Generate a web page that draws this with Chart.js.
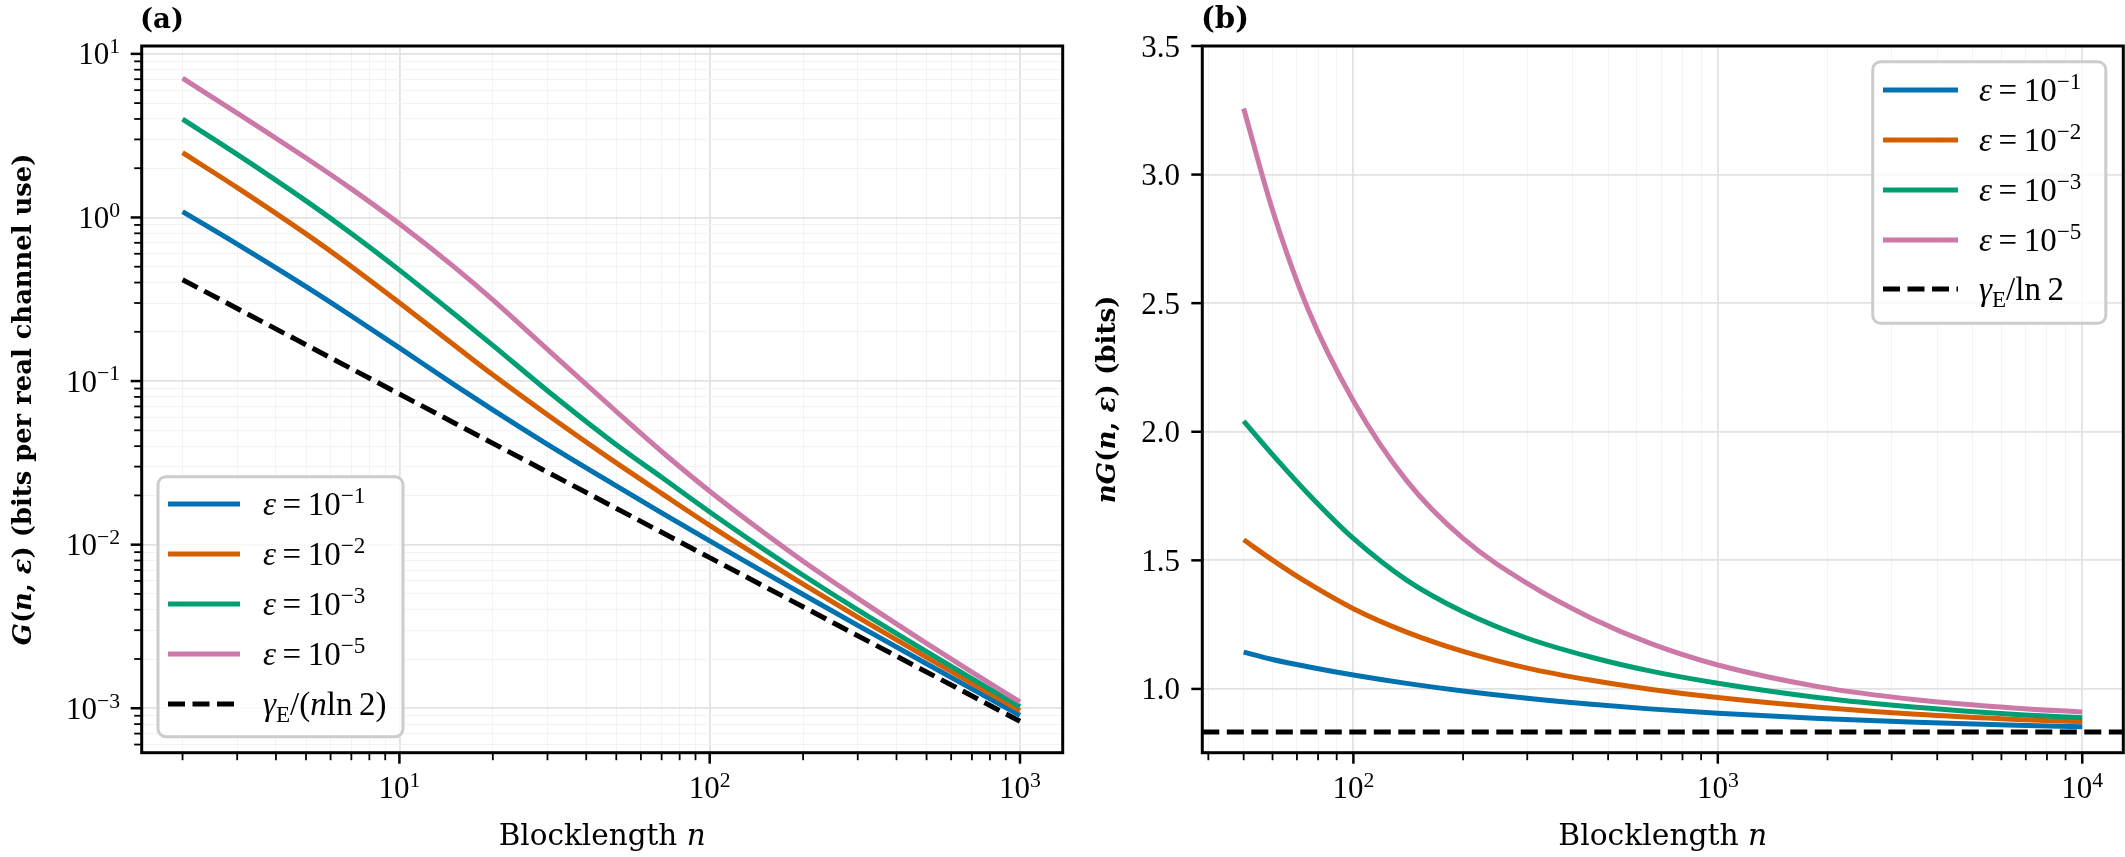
<!DOCTYPE html>
<html lang="en">
<head>
  <meta charset="UTF-8">
  <title>G(n, ε) against blocklength</title>
  <script src="https://cdn.jsdelivr.net/npm/chart.js"></script>
  <style>
    html, body {
      margin: 0;
      padding: 0;
      background: #fff;
    }

    .wrap {
      position: relative;
      width: 2125px;
      height: 857px;
    }

    #chartA {
      position: absolute;
      left: 0;
      top: 0;
    }

    #chartB {
      position: absolute;
      left: 1075px;
      top: 0;
    }
  </style>
</head>
<body>
  <div class="wrap">
    <canvas id="chartA" width="1075" height="857"></canvas>
    <canvas id="chartB" width="1050" height="857"></canvas>
  </div>

  <script>
    // Panel (a): G(n, eps) in bits per real channel use, log-log
    const nA = [2, 3, 5, 7, 10, 15, 20, 30, 50, 70, 100, 150, 200, 300, 500, 700, 1000];
    const gEps1 = [1.085, 0.687, 0.3776, 0.2499, 0.1594, 0.09513, 0.06665, 0.04103, 0.02286, 0.01564, 0.010541, 0.006772, 0.00496, 0.003212, 0.00187, 0.001313, 0.000905];
    const gEps2 = [2.49, 1.522, 0.7934, 0.502, 0.3011, 0.1661, 0.10925, 0.06227, 0.0316, 0.02057, 0.01312, 0.008043, 0.00573, 0.003603, 0.002047, 0.001419, 0.0009665];
    const gEps3 = [3.99, 2.431, 1.2634, 0.7981, 0.4766, 0.2579, 0.1653, 0.0873, 0.04082, 0.02581, 0.01585, 0.009327, 0.0065, 0.00399, 0.002216, 0.001517, 0.001022];
    const gEps5 = [7.10, 4.347, 2.31, 1.496, 0.915, 0.4987, 0.3135, 0.156, 0.06514, 0.0371, 0.0212, 0.01177, 0.007925, 0.0047, 0.002494, 0.001663, 0.001093];
    const nRefA = [2, 10, 100, 1000];
    const gRef = [0.4164, 0.0833, 0.00833, 0.000833];

    // Panel (b): n * G(n, eps) in bits
    const nB = [50, 60, 75, 100, 140, 200, 300, 450, 650, 1000, 1900, 3500, 6600, 10000];
    const ngEps1 = [1.143, 1.1145, 1.0864, 1.0541, 1.0215, 0.9919, 0.9636, 0.9402, 0.9224, 0.905, 0.8846, 0.8701, 0.8588, 0.853];
    const ngEps2 = [1.580, 1.501, 1.412, 1.312, 1.221, 1.146, 1.081, 1.0335, 0.999, 0.9665, 0.929, 0.9015, 0.8815, 0.872];
    const ngEps3 = [2.041, 1.911, 1.760, 1.585, 1.423, 1.300, 1.197, 1.123, 1.070, 1.022, 0.966, 0.929, 0.901, 0.888];
    const ngEps5 = [3.257, 2.862, 2.478, 2.12, 1.81, 1.585, 1.41, 1.275, 1.178, 1.093, 1.008, 0.958, 0.925, 0.910];
    const ngRef = 0.8327;

    // axis ranges and tick labels
    const xLimA = [1.477, 1373];
    const yLimA = [5.35e-4, 11.17];
    const xLimB = [38.5, 12960];
    const yLimB = [0.752, 3.5];
    const xMajorA = [10, 100, 1000];
    const xExpA = ['1', '2', '3'];
    const yMajorA = [1e-3, 1e-2, 1e-1, 1, 10];
    const yExpA = ['−3', '−2', '−1', '0', '1'];
    const xMajorB = [100, 1000, 10000];
    const xExpB = ['2', '3', '4'];
    const yTicksB = [1.0, 1.5, 2.0, 2.5, 3.0, 3.5];
    const yTickLabelsB = ['1.0', '1.5', '2.0', '2.5', '3.0', '3.5'];

    const epsExps = ['−1', '−2', '−3', '−5'];
    const colors = ['#0072B2', '#D55E00', '#009E73', '#CC79A7'];

    const MATH = '"Liberation Serif", "Times New Roman", serif';
    const TEXT = '"DejaVu Serif", serif';
    const GRID_MAJOR = '#e2e2e2';
    const GRID_MINOR = '#f3f3f3';
    const DASH = [17, 7.5];

    function logTicks(lo, hi) {
      const out = [];
      for (let e = Math.floor(Math.log10(lo)); e <= Math.ceil(Math.log10(hi)); e++) {
        for (let m = 1; m < 10; m++) {
          const v = m * Math.pow(10, e);
          if (v >= lo && v <= hi) out.push({ value: v, major: m === 1 });
        }
      }
      return out;
    }

    function fontStr(p, size, family) {
      return (p.it ? 'italic ' : '') + (p.b ? 'bold ' : '') + size + 'px ' + family;
    }

    function layoutParts(ctx, parts, size, family) {
      let w = 0;
      const items = parts.map(p => {
        const s = (p.sup || p.sub) ? size * 0.7 : size;
        ctx.font = fontStr(p, s, family);
        const pw = ctx.measureText(p.t).width;
        const it = { p, x: w, font: ctx.font };
        w += pw;
        return it;
      });
      return { items, width: w };
    }

    function drawParts(ctx, parts, x, y, size, family, align) {
      const lay = layoutParts(ctx, parts, size, family);
      let x0 = x;
      if (align === 'center') x0 = x - lay.width / 2;
      if (align === 'right') x0 = x - lay.width;
      ctx.textAlign = 'left';
      ctx.textBaseline = 'alphabetic';
      lay.items.forEach(it => {
        ctx.font = it.font;
        const dy = it.p.sup ? -size * 0.36 : it.p.sub ? size * 0.2 : 0;
        ctx.fillText(it.p.t, x0 + it.x, y + dy);
      });
    }

    function fitSize(ctx, parts, family, target) {
      return 100 * target / layoutParts(ctx, parts, 100, family).width;
    }

    function pow10(exp) {
      return [{ t: '10' }, { t: exp, sup: true }];
    }

    function series(xs, ys, color, order, dash) {
      return {
        data: xs.map((x, i) => ({ x, y: ys[i] })),
        borderColor: color,
        borderWidth: 5,
        borderDash: dash || [],
        borderCapStyle: 'butt',
        pointRadius: 0,
        fill: false,
        cubicInterpolationMode: 'monotone',
        order
      };
    }

    function gridOpts() {
      return {
        drawTicks: false,
        color: c => (c.tick && c.tick.major) ? GRID_MAJOR : GRID_MINOR,
        lineWidth: c => (c.tick && c.tick.major) ? 1.8 : 1
      };
    }

    // spines, ticks, tick labels, titles and legend
    function decor(cfg) {
      return {
        id: 'decor',
        afterDraw(chart) {
          const ctx = chart.ctx;
          const a = chart.chartArea;
          const xs = chart.scales.x;
          const ys = chart.scales.y;
          ctx.save();
          ctx.fillStyle = '#000';
          ctx.strokeStyle = '#000';

          xs.ticks.forEach(t => {
            const px = xs.getPixelForValue(t.value);
            ctx.lineWidth = t.major ? 2.5 : 1.8;
            ctx.beginPath();
            ctx.moveTo(px, a.bottom);
            ctx.lineTo(px, a.bottom + (t.major ? 11 : 7.5));
            ctx.stroke();
          });
          ys.ticks.forEach(t => {
            const py = ys.getPixelForValue(t.value);
            ctx.lineWidth = t.major ? 2.5 : 1.8;
            ctx.beginPath();
            ctx.moveTo(a.left, py);
            ctx.lineTo(a.left - (t.major ? 11 : 7.5), py);
            ctx.stroke();
          });

          ctx.lineWidth = 3;
          ctx.strokeRect(a.left, a.top, a.right - a.left, a.bottom - a.top);

          cfg.xLabels.forEach(l => {
            drawParts(ctx, l.parts, xs.getPixelForValue(l.v), 798, 31, MATH, 'center');
          });
          cfg.yLabels.forEach(l => {
            drawParts(ctx, l.parts, cfg.yLabelRight, ys.getPixelForValue(l.v) + 10.5, 31, MATH, 'right');
          });

          const midX = (a.left + a.right) / 2;
          const midY = (a.top + a.bottom) / 2;
          const xt = [{ t: 'Blocklength ' }, { t: 'n', it: true }];
          drawParts(ctx, xt, midX, 845, fitSize(ctx, xt, TEXT, cfg.xTitleWidth), TEXT, 'center');

          ctx.save();
          ctx.translate(cfg.yTitleX, midY);
          ctx.rotate(-Math.PI / 2);
          drawParts(ctx, cfg.yTitle, 0, 0, fitSize(ctx, cfg.yTitle, TEXT, cfg.yTitleWidth), TEXT, 'center');
          ctx.restore();

          drawParts(ctx, cfg.title, cfg.titleX, 28, fitSize(ctx, cfg.title, TEXT, cfg.titleWidth), TEXT, 'left');

          const lg = cfg.legend;
          ctx.beginPath();
          ctx.roundRect(lg.box[0], lg.box[1], lg.box[2] - lg.box[0], lg.box[3] - lg.box[1], 8);
          ctx.fillStyle = 'rgba(255,255,255,0.8)';
          ctx.fill();
          ctx.lineWidth = 3;
          ctx.strokeStyle = '#cccccc';
          ctx.stroke();
          lg.rows.forEach((ry, i) => {
            const dashed = i === 4;
            ctx.strokeStyle = dashed ? '#000' : colors[i];
            ctx.lineWidth = 5;
            ctx.lineCap = 'butt';
            ctx.setLineDash(dashed ? DASH : []);
            ctx.beginPath();
            ctx.moveTo(lg.line[0], ry);
            ctx.lineTo(lg.line[1], ry);
            ctx.stroke();
            ctx.setLineDash([]);
            ctx.fillStyle = '#000';
            const parts = dashed ? lg.refLabel
              : [{ t: 'ε', it: true }, { t: '\u2009=\u200910' }, { t: epsExps[i], sup: true }];
            drawParts(ctx, parts, lg.textX, ry + 11, 33, MATH, 'left');
          });
          ctx.restore();
        }
      };
    }

    new Chart(document.getElementById('chartA'), {
      type: 'line',
      data: {
        datasets: [
          series(nA, gEps1, colors[0], 4),
          series(nA, gEps2, colors[1], 3),
          series(nA, gEps3, colors[2], 2),
          series(nA, gEps5, colors[3], 1),
          series(nRefA, gRef, '#000', 0, DASH)
        ]
      },
      options: {
        responsive: false,
        animation: false,
        devicePixelRatio: 1,
        layout: { padding: { left: 0, right: 12.3, top: 46, bottom: 0 } },
        plugins: { legend: { display: false }, tooltip: { enabled: false } },
        scales: {
          x: {
            type: 'logarithmic',
            min: xLimA[0],
            max: xLimA[1],
            afterBuildTicks: s => { s.ticks = logTicks(xLimA[0], xLimA[1]); },
            afterFit: s => { s.height = 104.3; },
            ticks: { display: false },
            grid: gridOpts(),
            border: { display: false }
          },
          y: {
            type: 'logarithmic',
            min: yLimA[0],
            max: yLimA[1],
            afterBuildTicks: s => { s.ticks = logTicks(yLimA[0], yLimA[1]); },
            afterFit: s => { s.width = 141.7; },
            ticks: { display: false },
            grid: gridOpts(),
            border: { display: false }
          }
        }
      },
      plugins: [decor({
        xLabels: xMajorA.map((v, i) => ({ v, parts: pow10(xExpA[i]) })),
        yLabels: yMajorA.map((v, i) => ({ v, parts: pow10(yExpA[i]) })),
        yLabelRight: 120,
        xTitleWidth: 207,
        yTitle: [
          { t: 'G', it: true, b: true }, { t: '(', b: true }, { t: 'n', it: true, b: true },
          { t: ', ', b: true }, { t: 'ε', it: true, b: true },
          { t: ') (bits per real channel use)', b: true }
        ],
        yTitleWidth: 492,
        yTitleX: 31,
        title: [{ t: '(a)', b: true }],
        titleX: 140,
        titleWidth: 44,
        legend: {
          box: [158, 476.7, 403, 736.7],
          line: [168, 240],
          textX: 263,
          rows: [504, 554, 604, 654, 704],
          refLabel: [{ t: 'γ', it: true }, { t: 'E', sub: true }, { t: '/(' }, { t: 'n', it: true }, { t: 'ln\u20092)' }]
        }
      })]
    });

    new Chart(document.getElementById('chartB'), {
      type: 'line',
      data: {
        datasets: [
          series(nB, ngEps1, colors[0], 4),
          series(nB, ngEps2, colors[1], 3),
          series(nB, ngEps3, colors[2], 2),
          series(nB, ngEps5, colors[3], 1),
          series(xLimB, [ngRef, ngRef], '#000', 0, DASH)
        ]
      },
      options: {
        responsive: false,
        animation: false,
        devicePixelRatio: 1,
        layout: { padding: { left: 0, right: 1.7, top: 46, bottom: 0 } },
        plugins: { legend: { display: false }, tooltip: { enabled: false } },
        scales: {
          x: {
            type: 'logarithmic',
            min: xLimB[0],
            max: xLimB[1],
            afterBuildTicks: s => { s.ticks = logTicks(xLimB[0], xLimB[1]); },
            afterFit: s => { s.height = 104.3; },
            ticks: { display: false },
            grid: gridOpts(),
            border: { display: false }
          },
          y: {
            type: 'linear',
            min: yLimB[0],
            max: yLimB[1],
            afterBuildTicks: s => { s.ticks = yTicksB.map(v => ({ value: v, major: true })); },
            afterFit: s => { s.width = 127.3; },
            ticks: { display: false },
            grid: gridOpts(),
            border: { display: false }
          }
        }
      },
      plugins: [decor({
        xLabels: xMajorB.map((v, i) => ({ v, parts: pow10(xExpB[i]) })),
        yLabels: yTicksB.map((v, i) => ({ v, parts: [{ t: yTickLabelsB[i] }] })),
        yLabelRight: 105,
        xTitleWidth: 209,
        yTitle: [
          { t: 'nG', it: true, b: true }, { t: '(', b: true }, { t: 'n', it: true, b: true },
          { t: ', ', b: true }, { t: 'ε', it: true, b: true }, { t: ') (bits)', b: true }
        ],
        yTitleWidth: 208,
        yTitleX: 40,
        title: [{ t: '(b)', b: true }],
        titleX: 126,
        titleWidth: 48,
        legend: {
          box: [797.7, 61.7, 1030.8, 323.3],
          line: [808, 883],
          textX: 904,
          rows: [90, 140, 190, 240, 289],
          refLabel: [{ t: 'γ', it: true }, { t: 'E', sub: true }, { t: '/ln\u20092' }]
        }
      })]
    });
  </script>
</body>
</html>
